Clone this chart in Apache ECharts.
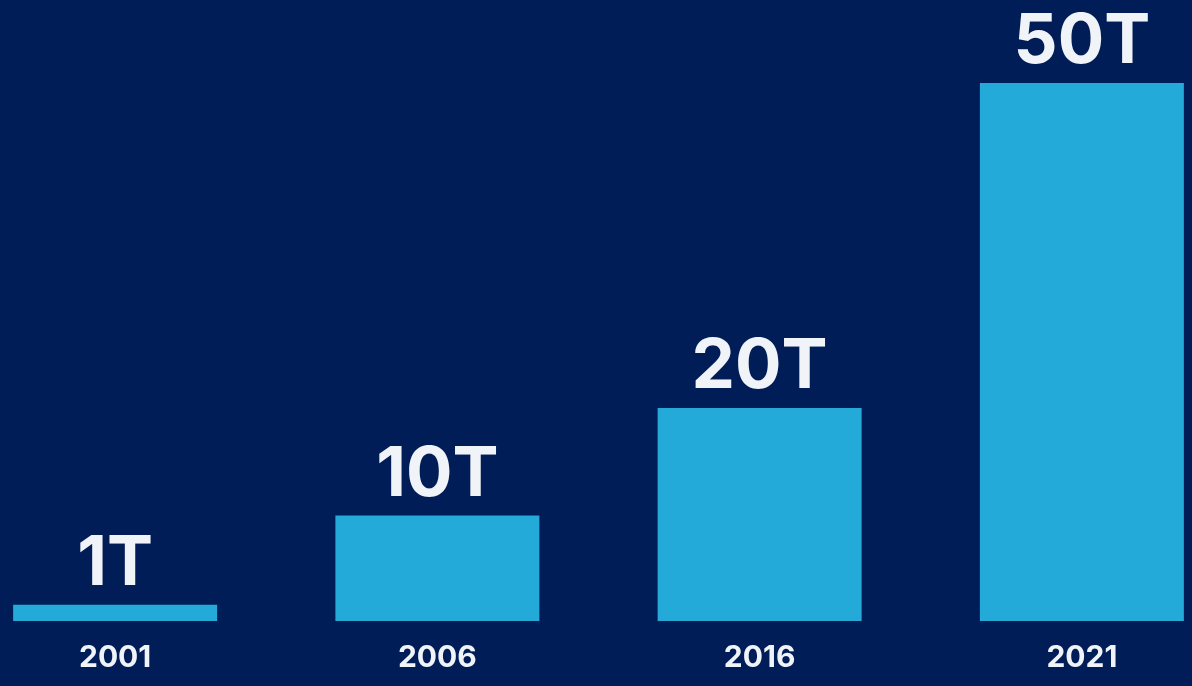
<!DOCTYPE html>
<html>
<head>
<meta charset="utf-8">
<script src="https://cdn.jsdelivr.net/npm/echarts@6/dist/echarts.min.js"></script>
<style>
html,body{margin:0;padding:0;background:#001D57;overflow:hidden;width:1192px;height:686px;position:relative;}
#chart{position:absolute;left:-46px;top:0;width:1289px;height:686px;}
</style>
</head>
<body>
<div id="chart"></div>
<script>
const categories = ['2001', '2006', '2016', '2021'];
const values = [1.5, 9.8, 19.8, 50];
const valueLabels = ['1T', '10T', '20T', '50T'];

const chart = echarts.init(document.getElementById('chart'));
chart.setOption({
  backgroundColor: '#001D57',
  animation: false,
  grid: { left: 0, right: 0, top: 83, bottom: 65, containLabel: false },
  xAxis: {
    type: 'category',
    data: categories,
    axisLine: { show: false },
    axisTick: { show: false },
    axisLabel: {
      color: '#F0F3F8',
      fontFamily: 'Inter',
      fontWeight: 'bold',
      fontSize: 30,
      margin: 22
    }
  },
  yAxis: {
    type: 'value',
    min: 0,
    max: 50,
    show: false,
    splitLine: { show: false }
  },
  series: [{
    type: 'bar',
    data: values,
    barWidth: 204,
    itemStyle: { color: '#23AAD8' },
    label: {
      show: true,
      position: 'top',
      distance: 6,
      formatter: p => valueLabels[p.dataIndex],
      color: '#F0F3F8',
      fontFamily: 'Inter',
      fontWeight: 'bold',
      fontSize: 69
    }
  }]
});
</script>
</body>
</html>
